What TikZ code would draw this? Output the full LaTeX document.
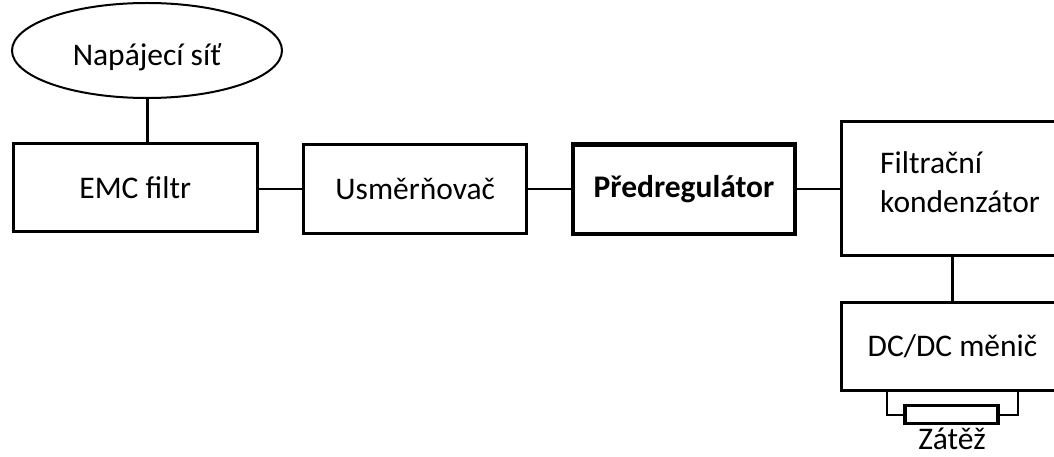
\documentclass[tikz,border=0pt]{standalone}
\usepackage{fontspec}
\setmainfont{Carlito}
\usetikzlibrary{shapes.geometric,calc}
\begin{document}
\begin{tikzpicture}[x=1pt,y=-1pt,
  every node/.style={font=\fontsize{31.5}{39}\selectfont, text=black},
  blk/.style={draw, rectangle, line width=3pt, inner sep=0pt},
  bblk/.style={blk, line width=4.5pt},
  conn/.style={line width=2pt},
  wire/.style={line width=2pt}]
\useasboundingbox (0,0) rectangle (1054,457);
\clip (0,0) rectangle (1054,457);
\node[draw, ellipse, line width=2pt, minimum width=270pt, minimum height=95pt, inner sep=0pt, text height=30pt, text depth=0pt] (sit) at (147,50.5) {Napájecí síť};
\node[blk, minimum width=243.5pt, minimum height=87pt] (emc) at (135.25,187.5) {EMC filtr};
\node[blk, minimum width=223pt, minimum height=88.5pt] (usm) at (415.25,188.75) {Usměrňovač};
\node[bblk, minimum width=222pt, minimum height=89.5pt] (pre) at (684,189.25) {\bfseries Předregulátor};
\node[blk, minimum width=223pt, minimum height=133pt] (fk) at (952.5,188.5) {};
\node[anchor=west, inner sep=0pt, align=left] (fkt) at (880,182) {Filtrační\\kondenzátor};
\node[blk, minimum width=223pt, minimum height=88pt] (dc) at (952.5,346) {DC/DC měnič};
\node[draw, rectangle, line width=3.5pt, minimum width=93pt, minimum height=18pt, inner sep=0pt] (res) at (951.5,414.5) {};
\node[anchor=base, inner sep=0pt] (zat) at (952,449) {Zátěž};
\draw[line width=3pt] (sit.south) -- (sit.south |- emc.north);
\draw[conn] (usm.west -| emc.east) -- (usm.west);
\draw[conn] (pre.west -| usm.east) -- (pre.west);
\draw[conn] (pre.east) -- (pre.east -| fk.west);
\draw[line width=2.5pt] (dc.north |- fk.south) -- (dc.north);
\coordinate (wl) at (887,390);
\coordinate (wr) at (1017.5,390);
\draw[wire] (wl) |- (res.west);
\draw[wire] (wr) |- (res.east);
\end{tikzpicture}
\end{document}
